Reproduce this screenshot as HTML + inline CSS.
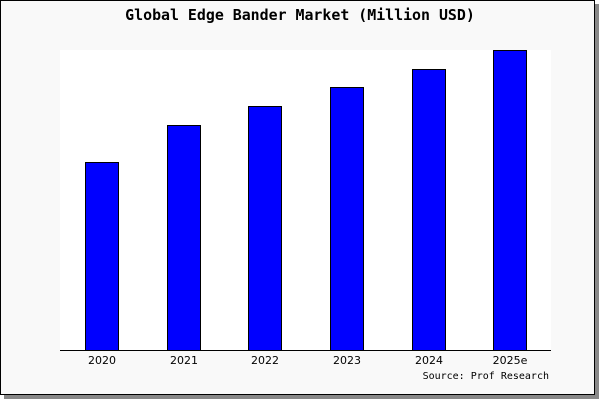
<!DOCTYPE html>
<html><head><style>
body{margin:0;width:600px;height:400px;background:#fff;position:relative;overflow:hidden}
</style></head><body>
<svg width="600" height="400" xmlns="http://www.w3.org/2000/svg">
<rect x="4" y="4" width="595" height="395" fill="#888"/>
<rect x="0.5" y="0.5" width="594" height="394" fill="#f9f9f9" stroke="#000"/>
<rect x="60" y="50" width="491" height="301" fill="#fff"/>
<text x="300" y="20" text-anchor="middle" font-family="DejaVu Sans Mono, monospace" font-size="14.9" font-weight="bold">Global Edge Bander Market (Million USD)</text>
<g fill="#0000ff" stroke="#000" stroke-width="1">
<rect x="85.5" y="162.5" width="33" height="188"/>
<rect x="167.5" y="125.5" width="33" height="225"/>
<rect x="248.5" y="106.5" width="33" height="244"/>
<rect x="330.5" y="87.5" width="33" height="263"/>
<rect x="412.5" y="69.5" width="33" height="281"/>
<rect x="493.5" y="50.5" width="33" height="300"/>
</g>
<line x1="60" y1="350.5" x2="551" y2="350.5" stroke="#000"/>
<g font-family="DejaVu Sans, sans-serif" font-size="11" text-anchor="middle">
<text x="102" y="364">2020</text>
<text x="184" y="364">2021</text>
<text x="265" y="364">2022</text>
<text x="347" y="364">2023</text>
<text x="429" y="364">2024</text>
<text x="510" y="364">2025e</text>
</g>
<text x="549" y="379" text-anchor="end" font-family="DejaVu Sans Mono, monospace" font-size="10">Source: Prof Research</text>
</svg>
</body></html>
